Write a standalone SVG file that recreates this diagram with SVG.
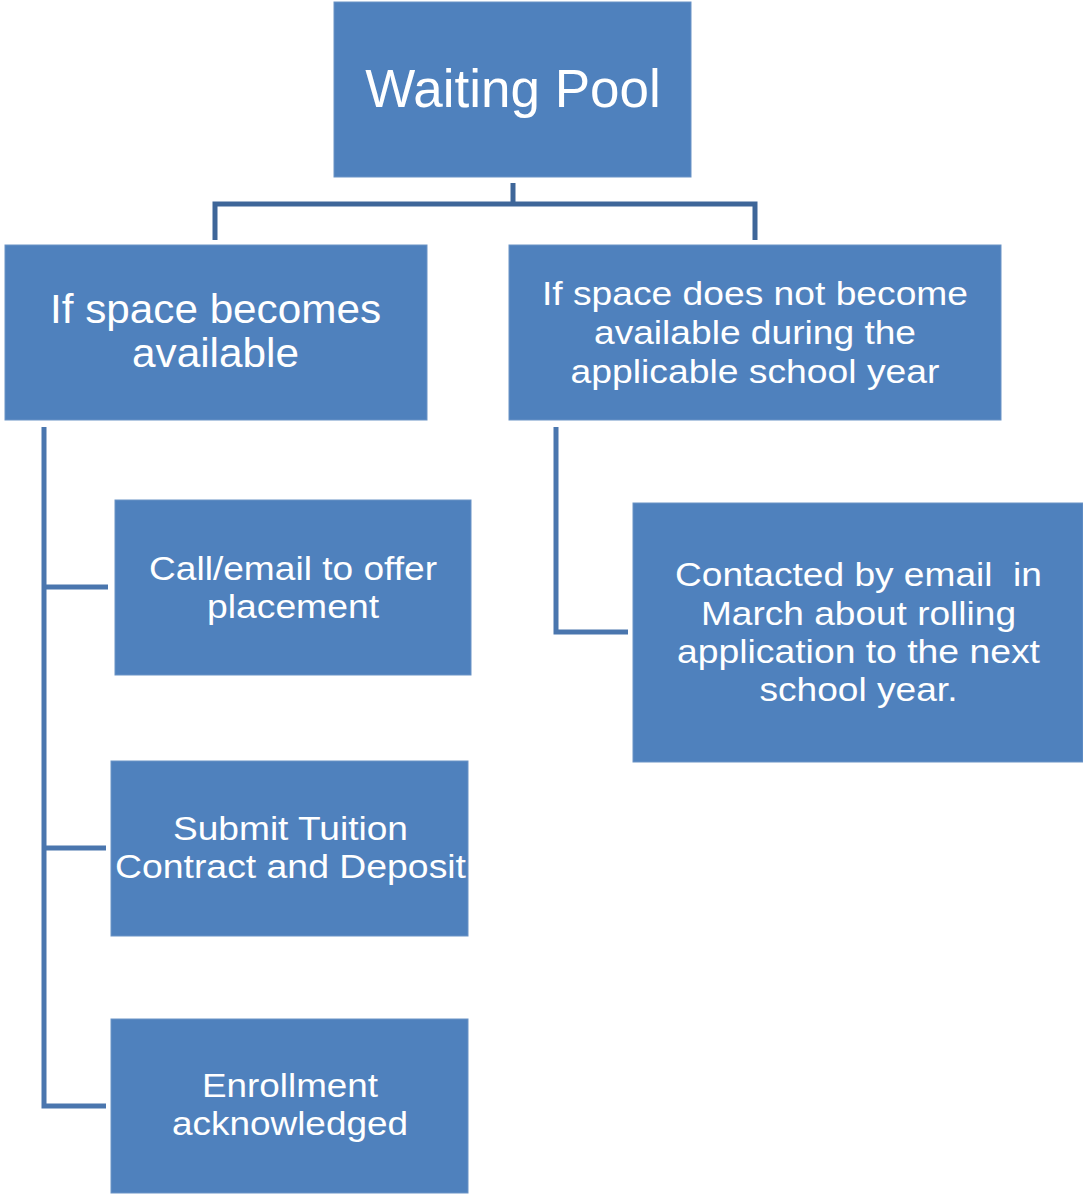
<svg xmlns="http://www.w3.org/2000/svg" width="1083" height="1195" viewBox="0 0 1083 1195">
  <style>
    .box { fill: #4F81BD; stroke: #6A93C6; stroke-width: 1; }
    .lbl { fill: #FFFFFF; font-family: "Liberation Sans", Arial, sans-serif; text-anchor: middle; }
    .wire { fill: none; stroke: #4A76AE; stroke-width: 5; stroke-linejoin: miter; }
    .wire-top { fill: none; stroke: #3E6699; stroke-width: 5; }
  </style>
  <rect width="1083" height="1195" fill="#FFFFFF"/>

  <g id="connectors">
    <polyline class="wire-top" points="513,183 513,204"/>
    <polyline class="wire-top" points="215,240 215,204 755,204 755,240"/>
    <polyline class="wire" points="44,427 44,1106 106,1106"/>
    <line class="wire" x1="44" y1="587" x2="108" y2="587"/>
    <line class="wire" x1="44" y1="848" x2="106" y2="848"/>
    <polyline class="wire" points="556,427 556,632 628,632"/>
  </g>

  <g id="waiting-pool">
    <rect class="box" x="334" y="2" width="357" height="175"/>
    <text class="lbl" x="513" y="107" font-size="53">Waiting Pool</text>
  </g>

  <g id="space-available">
    <rect class="box" x="5" y="245" width="422" height="175"/>
    <text class="lbl" x="215.5" y="323" font-size="40" textLength="331" lengthAdjust="spacingAndGlyphs">If space becomes</text>
    <text class="lbl" x="215.5" y="367" font-size="40" textLength="167" lengthAdjust="spacingAndGlyphs">available</text>
  </g>

  <g id="space-not-available">
    <rect class="box" x="509" y="245" width="492" height="175"/>
    <text class="lbl" x="755" y="305" font-size="34" textLength="426" lengthAdjust="spacingAndGlyphs">If space does not become</text>
    <text class="lbl" x="755" y="344" font-size="34" textLength="322" lengthAdjust="spacingAndGlyphs">available during the</text>
    <text class="lbl" x="755" y="383" font-size="34" textLength="369" lengthAdjust="spacingAndGlyphs">applicable school year</text>
  </g>

  <g id="offer-placement">
    <rect class="box" x="115" y="500" width="356" height="175"/>
    <text class="lbl" x="293" y="580" font-size="34" textLength="288" lengthAdjust="spacingAndGlyphs">Call/email to offer</text>
    <text class="lbl" x="293" y="618" font-size="34" textLength="172" lengthAdjust="spacingAndGlyphs">placement</text>
  </g>

  <g id="tuition-contract">
    <rect class="box" x="111" y="761" width="357" height="175"/>
    <text class="lbl" x="290.5" y="840" font-size="34" textLength="235" lengthAdjust="spacingAndGlyphs">Submit Tuition</text>
    <text class="lbl" x="290.5" y="878" font-size="34" textLength="351" lengthAdjust="spacingAndGlyphs">Contract and Deposit</text>
  </g>

  <g id="enrollment">
    <rect class="box" x="111" y="1019" width="357" height="174"/>
    <text class="lbl" x="290" y="1097" font-size="34" textLength="176" lengthAdjust="spacingAndGlyphs">Enrollment</text>
    <text class="lbl" x="290" y="1135" font-size="34" textLength="236" lengthAdjust="spacingAndGlyphs">acknowledged</text>
  </g>

  <g id="rolling-application">
    <rect class="box" x="633" y="503" width="450" height="259"/>
    <text class="lbl" x="858.5" y="586" font-size="34" textLength="367" lengthAdjust="spacingAndGlyphs" xml:space="preserve">Contacted by email  in</text>
    <text class="lbl" x="858.5" y="625" font-size="34" textLength="315" lengthAdjust="spacingAndGlyphs">March about rolling</text>
    <text class="lbl" x="858.5" y="663" font-size="34" textLength="363" lengthAdjust="spacingAndGlyphs">application to the next</text>
    <text class="lbl" x="858.5" y="701" font-size="34" textLength="198" lengthAdjust="spacingAndGlyphs">school year.</text>
  </g>
</svg>
